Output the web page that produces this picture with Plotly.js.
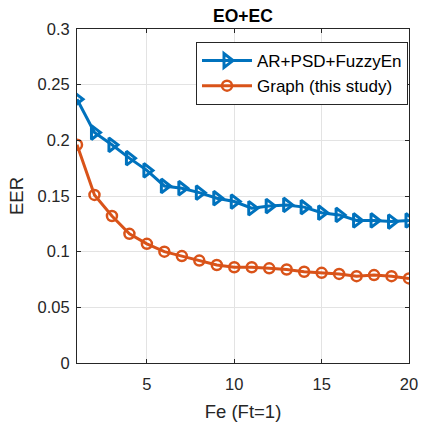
<!DOCTYPE html>
<html><head><meta charset="utf-8">
<script src="https://cdn.plot.ly/plotly-3.0.1.min.js"></script>
<style>html,body{margin:0;padding:0;background:#fff}#chart{width:422px;height:425px}</style>
</head><body><div id="chart"></div>
<script>
const fe = [1,2,3,4,5,6,7,8,9,10,11,12,13,14,15,16,17,18,19,20];
const arPsdFuzzy = [0.237,0.207,0.196,0.184,0.173,0.159,0.157,0.153,0.148,0.145,0.139,0.141,0.142,0.140,0.135,0.133,0.128,0.128,0.127,0.128];
const graphStudy = [0.196,0.151,0.132,0.116,0.107,0.100,0.096,0.092,0.088,0.086,0.086,0.085,0.084,0.082,0.081,0.080,0.078,0.079,0.078,0.076];
const seriesNames = ["AR+PSD+FuzzyEn","Graph (this study)"];
const xTicks = [5,10,15,20];
const yTicks = [0,0.05,0.1,0.15,0.2,0.25,0.3];
const yTickText = ["0","0.05","0.1","0.15","0.2","0.25","0.3"];

const traces = [
  {x: fe, y: arPsdFuzzy, name: seriesNames[0], mode: "lines+markers", type: "scatter",
   line: {color: "#0072BD", width: 3},
   marker: {symbol: "triangle-right-open", size: 12, color: "#0072BD", line: {width: 3, color: "#0072BD"}}},
  {x: fe, y: graphStudy, name: seriesNames[1], mode: "lines+markers", type: "scatter",
   line: {color: "#D95319", width: 3},
   marker: {symbol: "circle-open", size: 10, color: "#D95319", line: {width: 2.5, color: "#D95319"}}}
];

const layout = {
  width: 422, height: 425,
  margin: {l: 77, r: 13, t: 29, b: 62},
  paper_bgcolor: "#fff", plot_bgcolor: "#fff",
  font: {family: "Liberation Sans, Arial, sans-serif", size: 16.5, color: "#262626"},
  title: {text: "<b>EO+EC</b>", x: 0.5, xref: "paper", xanchor: "center", y: 0.962, yanchor: "middle", font: {size: 17.5, color: "#000"}},
  xaxis: {range: [1, 20], tickvals: xTicks, ticks: "inside", ticklen: 4, tickcolor: "#262626", ticklabelstandoff: 6,
          showgrid: true, gridcolor: "#e3e3e3", showline: true, linecolor: "#262626", linewidth: 1, mirror: "ticks",
          zeroline: false, title: {text: "Fe (Ft=1)", font: {size: 18.5}, standoff: 13}},
  yaxis: {range: [0, 0.3], tickvals: yTicks, ticktext: yTickText, ticks: "inside", ticklen: 4, tickcolor: "#262626", ticklabelstandoff: 3,
          showgrid: true, gridcolor: "#e3e3e3", showline: true, linecolor: "#262626", linewidth: 1, mirror: "ticks",
          zeroline: false, title: {text: "EER", font: {size: 18.5}, standoff: 9}},
  legend: {x: 0.997, y: 0.961, xanchor: "right", yanchor: "top", bgcolor: "#fff", bordercolor: "#262626", borderwidth: 1,
           font: {size: 17, color: "#000"}, tracegroupgap: 0, itemwidth: 50},
  showlegend: true
};
Plotly.newPlot("chart", traces, layout, {displayModeBar: false, staticPlot: true});
</script></body></html>
